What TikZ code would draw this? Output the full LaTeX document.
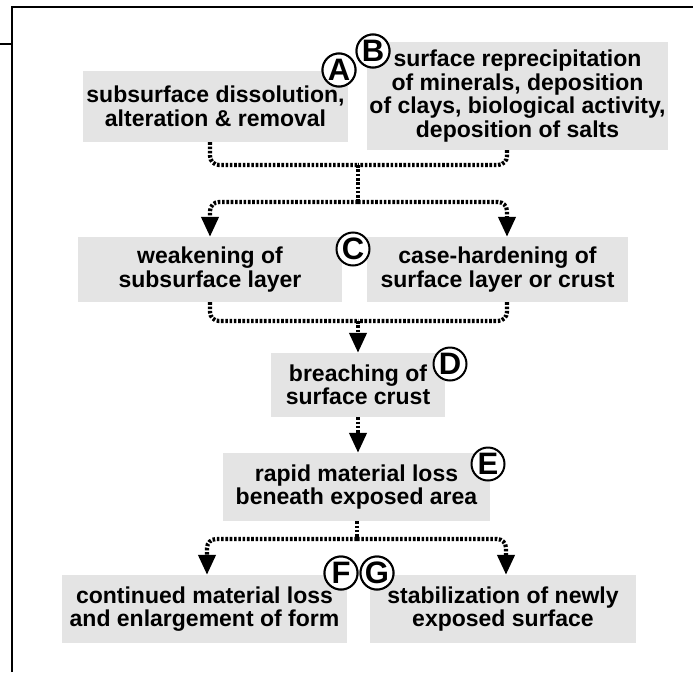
\documentclass[tikz,border=0pt]{standalone}
\usepackage{fontspec}
\setmainfont{Liberation Sans}
\usetikzlibrary{arrows.meta}
\definecolor{boxgray}{RGB}{228,228,228}
\tikzset{
  stage/.style={fill=boxgray, inner sep=0pt, align=center,
    font=\fontsize{23}{23.5}\selectfont\bfseries},
  tag/.style={circle, draw=black, line width=2pt, fill=white, inner sep=0pt,
    minimum size=33pt, font=\fontsize{31}{31}\selectfont\bfseries},
  flow/.style={line width=4.2pt, dash pattern=on 2.6pt off 1.7pt, rounded corners=9pt},
  flowarrow/.style={flow, -{Triangle[length=20pt,width=17pt]}},
  frame/.style={line width=1.3pt}
}
\begin{document}
\begin{tikzpicture}[x=1pt, y=-1pt]
\useasboundingbox (0,0) rectangle (693,672);

% frame
\draw[frame] (12,672) -- (12,7) -- (693,7);
\draw[frame] (0,44) -- (12,44);

% process stages
\node[stage, minimum width=265pt, minimum height=71pt] (A) at (215.5,106.5)
  {subsurface dissolution,\\alteration \& removal};
\node[stage, minimum width=301pt, minimum height=108pt] (B) at (517.5,96)
  {surface reprecipitation\\of minerals, deposition\\of clays, biological activity,\\deposition of salts};
\node[stage, minimum width=264pt, minimum height=65pt] (W) at (210,269.5)
  {weakening of\\subsurface layer};
\node[stage, minimum width=261pt, minimum height=65pt] (K) at (497.5,269.5)
  {case-hardening of\\surface layer or crust};
\node[stage, minimum width=174pt, minimum height=64pt] (D) at (358,385)
  {breaching of\\surface crust};
\node[stage, minimum width=267pt, minimum height=68pt] (E) at (356.5,487)
  {rapid material loss\\beneath exposed area};
\node[stage, minimum width=285pt, minimum height=68pt] (F) at (204.5,609)
  {continued material loss\\and enlargement of form};
\node[stage, minimum width=266pt, minimum height=68pt] (G) at (503,609)
  {stabilization of newly\\exposed surface};

% letter tags
\node[tag] (tA) at (339,70) {A};
\node[tag] (tB) at (373,51) {B};
\node[tag] (tC) at (353,249) {C};
\node[tag] (tD) at (450,364) {D};
\node[tag] (tE) at (488,464) {E};
\node[tag] (tF) at (341,573) {F};
\node[tag] (tG) at (377,573) {G};

% junctions and connector columns
\coordinate (jAB) at (358,165);
\coordinate (jC)  at (358,202);
\coordinate (cL)  at (210,202);
\coordinate (cR)  at (507,202);
\coordinate (jCD) at (358,321);
\coordinate (jE)  at (357,539);
\coordinate (eL)  at (207,539);
\coordinate (eR)  at (506,539);

% connectors
\draw[flow] (A.south -| cL) |- (jAB);
\draw[flow] (B.south -| cR) |- (jAB);
\draw[flow] (jAB) -- (jC);
\draw[flowarrow] (jC) -| (W.north -| cL);
\draw[flowarrow] (jC) -| (K.north -| cR);

\draw[flow] (W.south -| cL) |- (jCD);
\draw[flow] (K.south -| cR) |- (jCD);
\draw[flowarrow] (jCD) -- (D.north);

\draw[flowarrow] (D.south) -- (D.south |- E.north);

\draw[flow] (E.south -| jE) -- (jE);
\draw[flowarrow] (jE) -| (F.north -| eL);
\draw[flowarrow] (jE) -| (G.north -| eR);

% tags above the connectors and boxes
\node[tag] at (tA) {A};
\node[tag] at (tB) {B};
\node[tag] at (tF) {F};
\node[tag] at (tG) {G};
\end{tikzpicture}
\end{document}
